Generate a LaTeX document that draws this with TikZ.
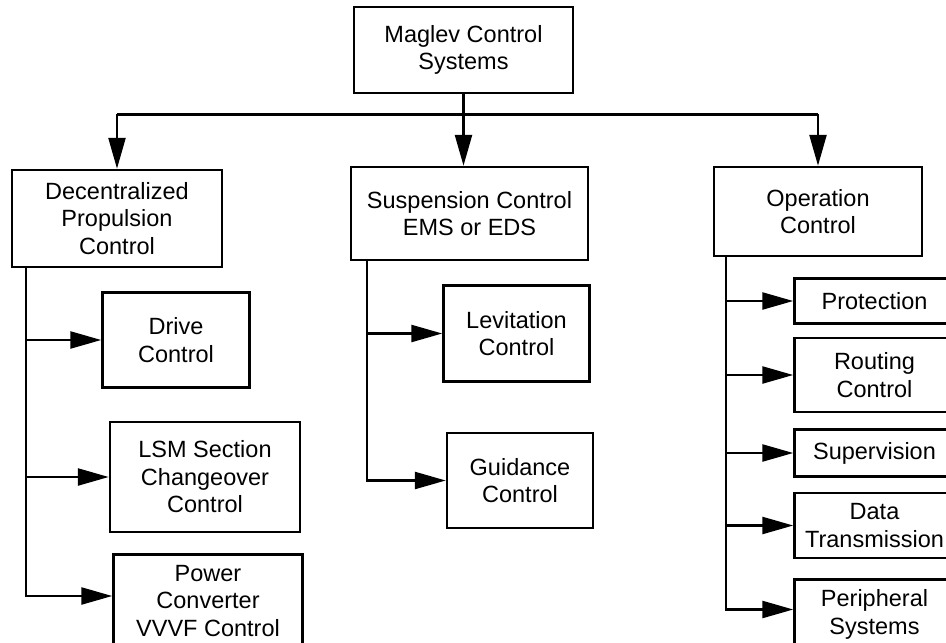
\documentclass[tikz,border=0pt]{standalone}
\usepackage{fontspec}
\setmainfont{Liberation Sans}
\usetikzlibrary{positioning,arrows.meta}

\begin{document}
\begin{tikzpicture}[
        x=1pt, y=-1pt,
        box/.style={rectangle, draw, line width=2.5pt, align=center, inner sep=0pt,
                    font=\fontsize{23.5}{27.5}\selectfont},
        wire/.style={line width=2.5pt, line join=miter},
        >={Triangle[length=31pt, width=17pt]}
    ]
        \useasboundingbox (0,0) rectangle (946,643);

        \node[box, minimum width=219pt, minimum height=86pt] (sys) at (463.5,50) {Maglev Control\\Systems};

        % first level
        \node[box, minimum width=210pt, minimum height=97pt] (dec) at (117,218.5) {Decentralized\\Propulsion\\Control};
        \node[box, minimum width=237pt, minimum height=93pt] (sus) at (469.5,213.5) {Suspension Control\\EMS or EDS};
        \node[box, minimum width=208pt, minimum height=89pt] (op) at (818,211.5) {Operation\\Control};

        % propulsion
        \node[box, minimum width=147pt, minimum height=95pt, below right=23pt and -122pt of dec] (drive) {Drive\\Control};
        \node[box, minimum width=190pt, minimum height=110pt, below right=32pt and -142pt of drive] (lsm) {LSM Section\\Changeover\\Control};
        \node[box, minimum width=189pt, minimum height=93pt, below right=20pt and -189pt of lsm] (power) {Power\\Converter\\VVVF Control};

        % suspension
        \node[box, minimum width=146pt, minimum height=96pt, below right=23pt and -147pt of sus] (lev) {Levitation\\Control};
        \node[box, minimum width=146pt, minimum height=95pt, below right=49pt and -145pt of lev] (guid) {Guidance\\Control};

        % operation
        \node[box, minimum width=160pt, minimum height=45pt, below right=20pt and -130pt of op] (prot) {Protection};
        \node[box, minimum width=160pt, minimum height=74pt, below=12pt of prot] (rout) {Routing\\Control};
        \node[box, minimum width=160pt, minimum height=47pt, below=15pt of rout] (super) {Supervision};
        \node[box, minimum width=160pt, minimum height=65pt, below=14pt of super] (data) {Data\\Transmission};
        \node[box, minimum width=160pt, minimum height=70pt, below=19pt of data] (peri) {Peripheral\\Systems};

        % bus under the top box
        \path (sys.south) ++(0,20) coordinate (bus);
        \draw[wire] (bus -| dec.north) -- (bus -| op.north);
        \draw[wire, ->] (sys.south) -- (sys.south |- sus.north);
        \draw[wire, ->] (bus -| dec.north) -- (dec.north);
        \draw[wire, ->] (bus -| op.north) -- (op.north);

        % branches
        \draw[wire, ->] ([xshift=15pt]dec.south west) |- (drive.west);
        \draw[wire, ->] ([xshift=15pt]dec.south west) |- (lsm.west);
        \draw[wire, ->] ([xshift=15pt]dec.south west) |- ([yshift=5pt]power.west);

        \draw[wire, ->] ([xshift=17pt]sus.south west) |- (lev.west);
        \draw[wire, ->] ([xshift=17pt]sus.south west) |- (guid.west);

        \draw[wire, ->] ([xshift=13pt]op.south west) |- (prot.west);
        \draw[wire, ->] ([xshift=13pt]op.south west) |- (rout.west);
        \draw[wire, ->] ([xshift=13pt]op.south west) |- (super.west);
        \draw[wire, ->] ([xshift=13pt]op.south west) |- (data.west);
        \draw[wire, ->] ([xshift=13pt]op.south west) |- ([yshift=5pt]peri.west);
    \end{tikzpicture}
\end{document}
